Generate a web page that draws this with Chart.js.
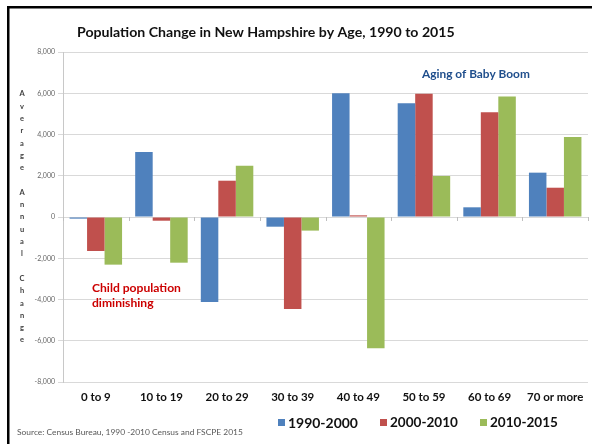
<!DOCTYPE html>
<html>
<head>
<meta charset="utf-8">
<script src="https://cdn.jsdelivr.net/npm/chart.js@4.4.1/dist/chart.umd.min.js"></script>
<style>
html,body{margin:0;padding:0;background:#fff;}
#wrap{position:relative;width:592px;height:444px;background:#fff;}
canvas{display:block;}
</style>
</head>
<body>
<div id="wrap"><canvas id="c" width="592" height="444"></canvas></div>
<script>
// ---- data ----
const categories = ['0 to 9','10 to 19','20 to 29','30 to 39','40 to 49','50 to 59','60 to 69','70 or more'];
const seriesNames = ['1990-2000','2000-2010','2010-2015'];
const change1990_2000 = [-80, 3150, -4120, -470, 6000, 5510, 470, 2150];
const change2000_2010 = [-1650, -180, 1760, -4460, 80, 5970, 5080, 1420];
const change2010_2015 = [-2310, -2215, 2490, -660, -6360, 1990, 5840, 3880];
const yTickValues = [-8000,-6000,-4000,-2000,0,2000,4000,6000,8000];
const titleText = 'Population Change in New Hampshire by Age, 1990 to 2015';
const yAxisTitle = 'Average Annual Change';
const noteBoom = 'Aging of Baby Boom';
const noteChild = ['Child population','diminishing'];
const sourceText = 'Source: Census Bureau, 1990 -2010 Census and FSCPE 2015';

const colors = ['#4f81bd','#c0504d','#9bbb59'];
const FONT = 'Lato';

function fit(ctx, text, weight, family, targetW){
  ctx.font = weight + ' 20px "' + family + '"';
  const w = ctx.measureText(text).width;
  return 20 * targetW / w;
}

const decor = {
  id: 'decor',
  afterDatasetsDraw(chart){
    const ctx = chart.ctx, x = chart.scales.x, y = chart.scales.y;
    const y0 = y.getPixelForValue(0);
    ctx.save();
    ctx.strokeStyle = '#bfbfbf';
    ctx.lineWidth = 1;
    ctx.beginPath();
    for (let i = 0; i <= categories.length; i++){
      let px;
      if (i === 0) px = chart.chartArea.left;
      else if (i === categories.length) px = chart.chartArea.right;
      else px = (x.getPixelForValue(i-1) + x.getPixelForValue(i)) / 2;
      px = Math.round(px) + 0.5;
      ctx.moveTo(px, y0);
      ctx.lineTo(px, y0 + 4);
    }
    ctx.stroke();
    ctx.restore();
  },
  afterDraw(chart){
    const ctx = chart.ctx;
    ctx.save();
    // frame
    ctx.fillStyle = '#000';
    ctx.fillRect(7, 6, 592 - 7, 2.5);
    ctx.fillRect(7, 6, 2.5, 444 - 6);

    ctx.textBaseline = 'middle';
    // title
    let fs = fit(ctx, titleText, 'bold', FONT, 378);
    ctx.font = 'bold ' + fs + 'px "' + FONT + '"';
    ctx.fillStyle = '#111';
    ctx.textAlign = 'left';
    ctx.fillText(titleText, 77, 32);

    // vertical y-axis title, one letter per line
    ctx.font = 'bold 7.5px "' + FONT + '"';
    ctx.fillStyle = '#404040';
    ctx.textAlign = 'center';
    const chars = yAxisTitle.split('');
    chars.forEach((ch, i) => {
      if (ch !== ' ') ctx.fillText(ch, 22, 94 + i * 12.3);
    });

    // annotations
    ctx.textAlign = 'left';
    fs = fit(ctx, noteBoom, 'bold', FONT, 108);
    ctx.font = 'bold ' + fs + 'px "' + FONT + '"';
    ctx.fillStyle = '#1f4e8c';
    ctx.fillText(noteBoom, 422, 74);

    fs = fit(ctx, noteChild[0], 'bold', FONT, 89);
    ctx.font = 'bold ' + fs + 'px "' + FONT + '"';
    ctx.fillStyle = '#cc0000';
    ctx.fillText(noteChild[0], 92, 288);
    ctx.fillText(noteChild[1], 92, 303);

    // source
    fs = fit(ctx, sourceText, 'normal', FONT, 226);
    ctx.font = fs + 'px "' + FONT + '"';
    ctx.fillStyle = '#595959';
    ctx.fillText(sourceText, 17, 432);

    // legend
    const legX = [278, 380, 480];
    const textW = [70, 68, 68];
    seriesNames.forEach((nm, i) => {
      ctx.fillStyle = colors[i];
      ctx.fillRect(legX[i], 419, 7, 7);
      const f = fit(ctx, nm, 'bold', FONT, textW[i]);
      ctx.font = 'bold ' + f + 'px "' + FONT + '"';
      ctx.fillStyle = '#111';
      ctx.fillText(nm, legX[i] + 10, 423);
    });
    ctx.restore();
  }
};

const ds = [change1990_2000, change2000_2010, change2010_2015].map((d, i) => ({
  label: seriesNames[i],
  data: d,
  backgroundColor: colors[i],
  borderWidth: 0,
  categoryPercentage: 0.8,
  barPercentage: 1.0
}));

new Chart(document.getElementById('c'), {
  type: 'bar',
  data: { labels: categories, datasets: ds },
  options: {
    responsive: false,
    animation: false,
    devicePixelRatio: 1,
    layout: { padding: { left: 0, top: 52, right: 4, bottom: 0 } },
    plugins: { legend: { display: false }, title: { display: false }, tooltip: { enabled: false } },
    scales: {
      x: {
        grid: { display: false, drawTicks: false },
        border: { display: false },
        ticks: { padding: 8, color: '#111', font: { family: FONT, weight: 'bold', size: 11.5 }, maxRotation: 0, autoSkip: false },
        afterFit(s){ s.height = 444 - 382; }
      },
      y: {
        min: -8000, max: 8000,
        afterBuildTicks(s){ s.ticks = yTickValues.map(v => ({ value: v })); },
        grid: { color: '#d9d9d9', lineWidth: 1, tickLength: 5, drawTicks: true },
        border: { display: true, color: '#c8c8c8' },
        ticks: { padding: 3, color: '#666', font: { family: FONT, size: 7 },
          callback: v => v.toLocaleString('en-US') },
        afterFit(s){ s.width = 63; }
      }
    }
  },
  plugins: [decor]
});
</script>
</body>
</html>
